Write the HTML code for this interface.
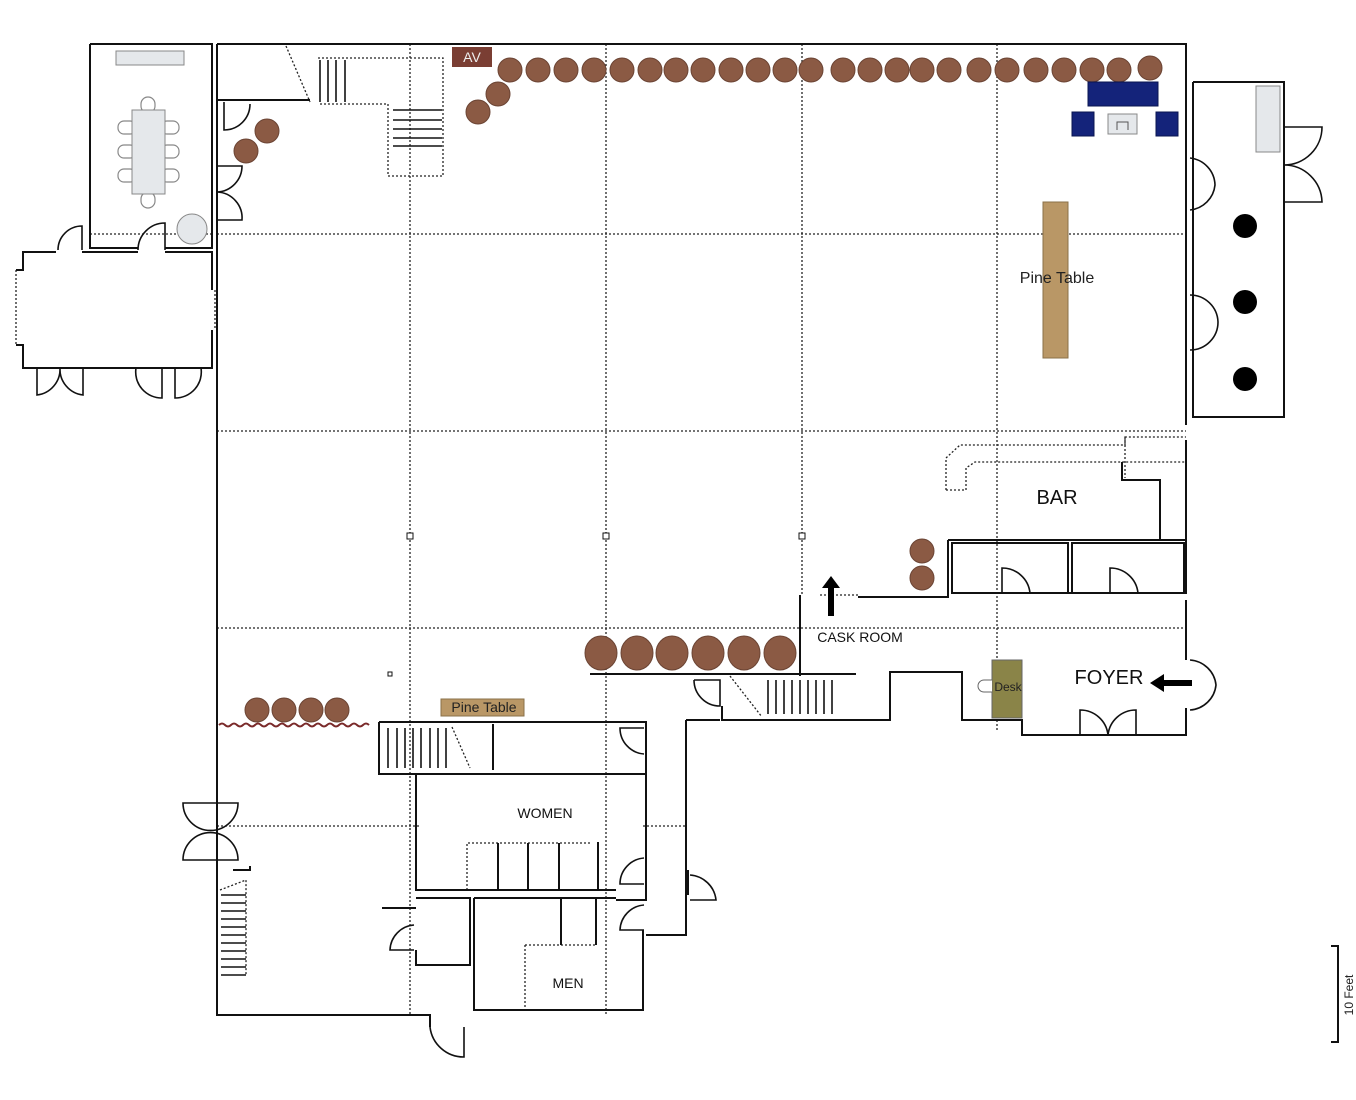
<!DOCTYPE html>
<html><head><meta charset="utf-8"><style>
html,body{margin:0;padding:0;background:#fff}
svg{display:block}
text{font-family:"Liberation Sans",sans-serif}
</style></head><body>
<svg width="1356" height="1100" viewBox="0 0 1356 1100" xmlns="http://www.w3.org/2000/svg">
<rect width="1356" height="1100" fill="#fff"/>
<g stroke="#222" stroke-width="1.3" stroke-dasharray="2,2" fill="none">
<line x1="410" y1="44" x2="410" y2="1015"/>
<line x1="606" y1="44" x2="606" y2="1015"/>
<line x1="802" y1="44" x2="802" y2="595"/>
<line x1="997" y1="44" x2="997" y2="730"/>
<line x1="217" y1="234" x2="1186" y2="234"/>
<line x1="217" y1="431" x2="1186" y2="431"/>
<line x1="217" y1="628" x2="1186" y2="628"/>
<line x1="217" y1="826" x2="420" y2="826"/>
<line x1="643" y1="826" x2="686" y2="826"/>
<line x1="90" y1="234" x2="212" y2="234"/>
<line x1="286" y1="46" x2="310" y2="102"/>
<polyline points="318,58 443,58 443,176 388,176 388,104 318,104"/>
<polyline points="946,490 946,458 960,445 1125,445 1125,437 1186,437"/>
<polyline points="946,490 966,490 966,468 975,462 1125,462 1186,462"/>
<line x1="1125" y1="437" x2="1125" y2="478"/>
<line x1="16" y1="270" x2="16" y2="345"/>
<line x1="215" y1="290" x2="215" y2="330"/>
<line x1="1225" y1="417" x2="1256" y2="417"/>
<line x1="240" y1="1015" x2="355" y2="1015"/>
<polyline points="220,890 246,880 246,976"/>
<polyline points="467,890 467,843 590,843"/>
<polyline points="525,945 596,945"/>
<line x1="525" y1="945" x2="525" y2="1010"/>
<line x1="730" y1="676" x2="762" y2="717"/>
<line x1="452" y1="727" x2="470" y2="768"/>
<line x1="858" y1="595" x2="820" y2="595"/>
</g>
<g stroke="#111" stroke-width="2" fill="none">
<polyline points="217,44 1186,44 1186,425"/>
<polyline points="1186,440 1186,540 1160,540 1160,480 1122,480 1122,462"/>
<polyline points="217,44 217,100 310,100"/>
<polyline points="217,150 217,1015 430,1015 430,1027"/>
<polyline points="90,44 212,44 212,248 165,248"/>
<polyline points="138,248 90,248 90,44"/>
<polyline points="56,252 23,252 23,270 16,270"/>
<polyline points="16,345 23,345 23,368 212,368 212,330"/>
<polyline points="212,290 212,252 165,252"/>
<polyline points="82,252 138,252"/>
<polyline points="1193,82 1284,82 1284,417 1193,417 1193,82"/>
<polyline points="948,540 1186,540 1186,593 1022,593 1022,593"/>
<rect x="952" y="543" width="116" height="50"/>
<rect x="1072" y="543" width="112" height="50"/>
<polyline points="858,597 948,597 948,540"/>
<polyline points="800,595 800,676"/>
<polyline points="590,674 856,674"/>
<polyline points="1186,600 1186,660"/>
<polyline points="1186,708 1186,735 1022,735 1022,720 962,720 962,672 950,672 890,672 890,720 855,720 722,720 722,706"/>
<polyline points="379,722 646,722 646,774 379,774 379,722"/>
<line x1="493" y1="724" x2="493" y2="770"/>
<polyline points="416,774 416,890 616,890"/>
<polyline points="646,774 646,900 616,900"/>
<polyline points="598,842 598,890"/>
<line x1="498" y1="843" x2="498" y2="890"/>
<line x1="528" y1="843" x2="528" y2="890"/>
<line x1="559" y1="843" x2="559" y2="890"/>
<polyline points="416,898 470,898 470,965 416,965 416,950"/>
<polyline points="382,908 416,908"/>
<polyline points="474,898 616,898"/>
<polyline points="474,898 474,1010 643,1010 643,930"/>
<line x1="561" y1="898" x2="561" y2="945"/>
<line x1="596" y1="898" x2="596" y2="945"/>
<polyline points="686,720 686,935 646,935"/>
<polyline points="686,720 720,720"/>
<polyline points="688,870 688,895"/>
<polyline points="233,870 250,870 250,866"/>
<polyline points="217,100 217,150"/>
</g>
<g stroke="#111" stroke-width="1.6" fill="none">
<path d="M224,102 L224,130 A26,26 0 0 0 250,104"/>
<path d="M217,166 L242,166 A26,26 0 0 1 217,192 A26,26 0 0 1 242,220 L217,220"/>
<path d="M58,250 A24,24 0 0 1 82,226 L82,250"/>
<path d="M138,250 A27,27 0 0 1 165,223 L165,250"/>
<path d="M37,368 L37,395 A26,26 0 0 0 60,368 A26,26 0 0 0 83,395 L83,368"/>
<path d="M136,368 A26,26 0 0 0 162,398 L162,368"/>
<path d="M175,368 L175,398 A26,26 0 0 0 201,368"/>
<path d="M1190,158 A28,28 0 0 1 1215,185 A28,28 0 0 1 1190,210"/>
<path d="M1190,295 A28,28 0 0 1 1218,322 A28,28 0 0 1 1190,350"/>
<path d="M1284,127 L1322,127 A38,38 0 0 1 1284,165 A38,38 0 0 1 1322,202 L1284,202"/>
<path d="M1002,593 L1002,568 A28,28 0 0 1 1030,593"/>
<path d="M1110,593 L1110,568 A28,28 0 0 1 1138,593"/>
<path d="M1190,660 A28,28 0 0 1 1216,685 A28,28 0 0 1 1190,710"/>
<path d="M1080,735 L1080,710 A28,28 0 0 1 1108,735 A28,28 0 0 1 1136,710 L1136,735"/>
<path d="M694,680 L720,680 L720,706 A26,26 0 0 1 694,680"/>
<path d="M644,728 L620,728 A26,26 0 0 0 644,754"/>
<path d="M644,858 A26,26 0 0 0 620,884 L644,884"/>
<path d="M644,905 A26,26 0 0 0 620,930 L644,930"/>
<path d="M690,875 A28,28 0 0 1 716,900 L690,900"/>
<path d="M414,925 A26,26 0 0 0 390,950 L414,950"/>
<path d="M183,803 L238,803 A27,27 0 0 1 183,803 Z"/>
<path d="M183,860 L238,860 A27,27 0 0 0 183,860 Z"/>
<path d="M430,1027 A34,34 0 0 0 464,1057 L464,1027"/>
</g>
<g stroke="#111" stroke-width="1.6">
<line x1="320" y1="60" x2="320" y2="102"/><line x1="328" y1="60" x2="328" y2="102"/><line x1="336" y1="60" x2="336" y2="102"/><line x1="345" y1="60" x2="345" y2="102"/>
<line x1="393" y1="110" x2="442" y2="110"/><line x1="393" y1="120" x2="442" y2="120"/><line x1="393" y1="129" x2="442" y2="129"/><line x1="393" y1="138" x2="442" y2="138"/><line x1="393" y1="146" x2="442" y2="146"/>
<line x1="388" y1="728" x2="388" y2="768"/><line x1="397" y1="728" x2="397" y2="768"/><line x1="405" y1="728" x2="405" y2="768"/><line x1="413" y1="728" x2="413" y2="768"/><line x1="421" y1="728" x2="421" y2="768"/><line x1="430" y1="728" x2="430" y2="768"/><line x1="438" y1="728" x2="438" y2="768"/><line x1="446" y1="728" x2="446" y2="768"/>
<line x1="768" y1="680" x2="768" y2="714"/><line x1="776" y1="680" x2="776" y2="714"/><line x1="784" y1="680" x2="784" y2="714"/><line x1="792" y1="680" x2="792" y2="714"/><line x1="800" y1="680" x2="800" y2="714"/><line x1="808" y1="680" x2="808" y2="714"/><line x1="816" y1="680" x2="816" y2="714"/><line x1="824" y1="680" x2="824" y2="714"/><line x1="832" y1="680" x2="832" y2="714"/>
<line x1="221" y1="895" x2="246" y2="895"/><line x1="221" y1="903" x2="246" y2="903"/><line x1="221" y1="911" x2="246" y2="911"/><line x1="221" y1="919" x2="246" y2="919"/><line x1="221" y1="927" x2="246" y2="927"/><line x1="221" y1="935" x2="246" y2="935"/><line x1="221" y1="943" x2="246" y2="943"/><line x1="221" y1="951" x2="246" y2="951"/><line x1="221" y1="959" x2="246" y2="959"/><line x1="221" y1="967" x2="246" y2="967"/><line x1="221" y1="975" x2="246" y2="975"/>
</g>
<path d="M219,725 q3,-3 6,0 t6,0 t6,0 t6,0 t6,0 t6,0 t6,0 t6,0 t6,0 t6,0 t6,0 t6,0 t6,0 t6,0 t6,0 t6,0 t6,0 t6,0 t6,0 t6,0 t6,0 t6,0 t6,0 t6,0 t6,0" stroke="#7a2a2a" stroke-width="2" fill="none"/>
<rect x="116" y="51" width="68" height="14" fill="#e5e8eb" stroke="#888"/>
<g fill="#fff" stroke="#888" stroke-width="1.2">
<rect x="141" y="97" width="14" height="16" rx="7"/><rect x="141" y="192" width="14" height="16" rx="7"/>
<rect x="118" y="121" width="18" height="13" rx="6"/><rect x="118" y="145" width="18" height="13" rx="6"/><rect x="118" y="169" width="18" height="13" rx="6"/>
<rect x="161" y="121" width="18" height="13" rx="6"/><rect x="161" y="145" width="18" height="13" rx="6"/><rect x="161" y="169" width="18" height="13" rx="6"/>
</g>
<rect x="132" y="110" width="33" height="84" fill="#e5e8eb" stroke="#888"/>
<circle cx="192" cy="229" r="15" fill="#e5e8eb" stroke="#888"/>
<rect x="452" y="47" width="40" height="20" fill="#7a3e33"/>
<text x="472" y="62" font-size="14" fill="#eee" text-anchor="middle">AV</text>
<g fill="#8b5a44" stroke="#6b4434">
<circle cx="510" cy="70" r="12"/><circle cx="538" cy="70" r="12"/><circle cx="566" cy="70" r="12"/><circle cx="594" cy="70" r="12"/><circle cx="622" cy="70" r="12"/><circle cx="650" cy="70" r="12"/><circle cx="676" cy="70" r="12"/><circle cx="703" cy="70" r="12"/><circle cx="731" cy="70" r="12"/><circle cx="758" cy="70" r="12"/><circle cx="785" cy="70" r="12"/><circle cx="811" cy="70" r="12"/><circle cx="843" cy="70" r="12"/><circle cx="870" cy="70" r="12"/><circle cx="897" cy="70" r="12"/><circle cx="922" cy="70" r="12"/><circle cx="949" cy="70" r="12"/><circle cx="979" cy="70" r="12"/><circle cx="1007" cy="70" r="12"/><circle cx="1036" cy="70" r="12"/><circle cx="1064" cy="70" r="12"/><circle cx="1092" cy="70" r="12"/><circle cx="1119" cy="70" r="12"/><circle cx="1150" cy="68" r="12"/>
<circle cx="498" cy="94" r="12"/><circle cx="478" cy="112" r="12"/><circle cx="267" cy="131" r="12"/><circle cx="246" cy="151" r="12"/>
<ellipse cx="601" cy="653" rx="16" ry="17"/><ellipse cx="637" cy="653" rx="16" ry="17"/><ellipse cx="672" cy="653" rx="16" ry="17"/><ellipse cx="708" cy="653" rx="16" ry="17"/><ellipse cx="744" cy="653" rx="16" ry="17"/><ellipse cx="780" cy="653" rx="16" ry="17"/>
<circle cx="257" cy="710" r="12"/><circle cx="284" cy="710" r="12"/><circle cx="311" cy="710" r="12"/><circle cx="337" cy="710" r="12"/>
<ellipse cx="922" cy="551" rx="12" ry="12"/><ellipse cx="922" cy="578" rx="12" ry="12"/>
</g>
<g fill="#14237a" stroke="#0a1450">
<rect x="1088" y="82" width="70" height="24"/><rect x="1072" y="112" width="22" height="24"/><rect x="1156" y="112" width="22" height="24"/>
</g>
<rect x="1108" y="114" width="29" height="20" fill="#e5e8eb" stroke="#888"/>
<path d="M1117,130 v-8 h11 v8" stroke="#555" fill="none"/>
<rect x="1256" y="86" width="24" height="66" fill="#e5e8eb" stroke="#888"/>
<g fill="#000"><circle cx="1245" cy="226" r="12"/><circle cx="1245" cy="302" r="12"/><circle cx="1245" cy="379" r="12"/></g>
<rect x="1043" y="202" width="25" height="156" fill="#b99766" stroke="#8a7048"/>
<text x="1057" y="283" font-size="16" fill="#222" text-anchor="middle">Pine Table</text>
<rect x="441" y="699" width="83" height="17" fill="#b99766" stroke="#8a7048"/>
<text x="484" y="712" font-size="14" fill="#222" text-anchor="middle">Pine Table</text>
<rect x="992" y="660" width="30" height="58" fill="#8a8448" stroke="#666"/>
<path d="M992,680 h-8 a6,6 0 0 0 0,12 h8" fill="#fff" stroke="#666"/>
<text x="1008" y="691" font-size="12" fill="#222" text-anchor="middle">Desk</text>
<g fill="#fff" stroke="#111"><rect x="407" y="533" width="6" height="6"/><rect x="603" y="533" width="6" height="6"/><rect x="799" y="533" width="6" height="6"/><rect x="388" y="672" width="4" height="4"/></g>
<path d="M828,616 v-28 h-6 l9,-12 l9,12 h-6 v28 z" fill="#000"/>
<path d="M1192,680 h-28 v-6 l-14,9 l14,9 v-6 h28 z" fill="#000"/>
<g fill="#111" text-anchor="middle">
<text x="1057" y="504" font-size="20">BAR</text>
<text x="860" y="642" font-size="14">CASK ROOM</text>
<text x="1109" y="684" font-size="20">FOYER</text>
<text x="545" y="818" font-size="14">WOMEN</text>
<text x="568" y="988" font-size="14">MEN</text>
</g>
<polyline points="1331,946 1338,946 1338,1042 1331,1042" stroke="#111" stroke-width="2" fill="none"/>
<text x="1353" y="995" font-size="12" fill="#222" text-anchor="middle" transform="rotate(-90 1353 995)">10 Feet</text>
</svg>
</body></html>
